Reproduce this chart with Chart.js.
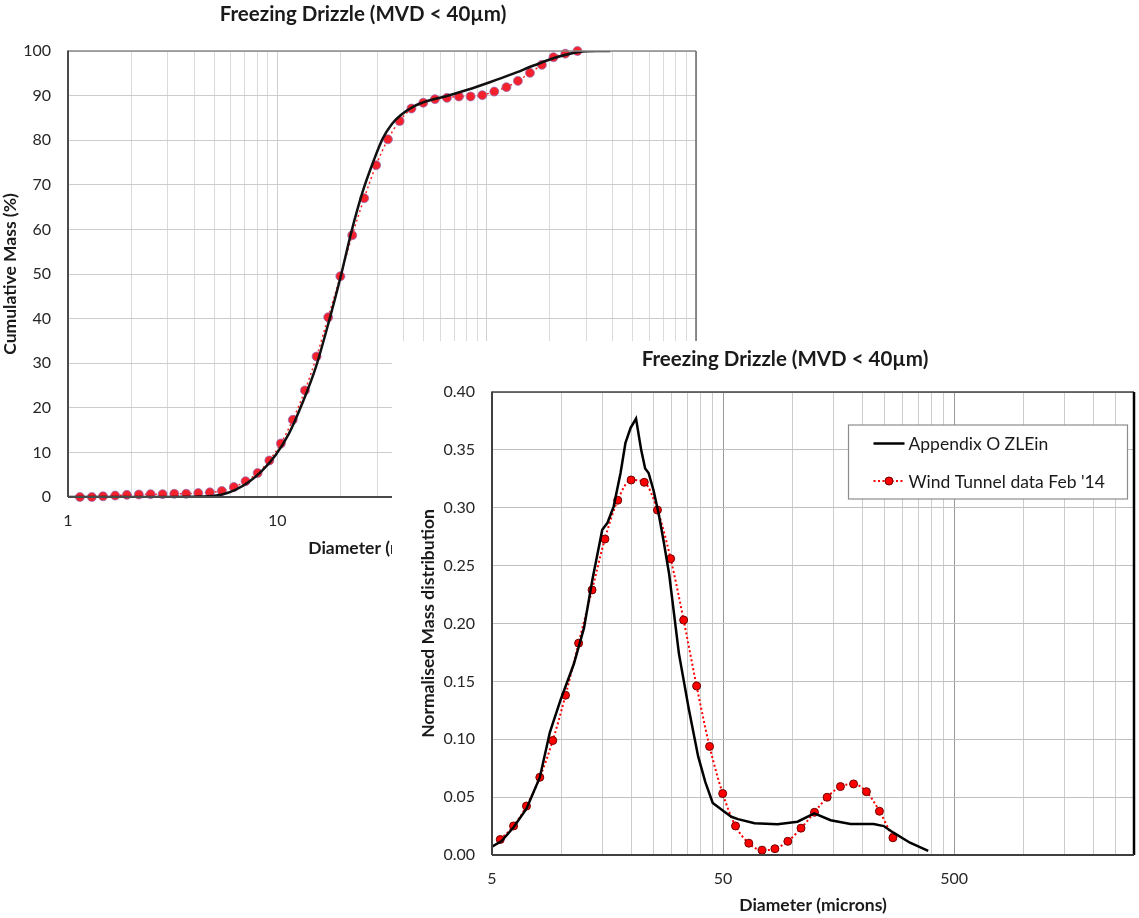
<!DOCTYPE html>
<html>
<head>
<meta charset="utf-8">
<script src="https://cdn.jsdelivr.net/npm/chart.js@4.4.1/dist/chart.umd.min.js"></script>
<style>
  html, body { margin: 0; padding: 0; background: #fff; }
  body { width: 1139px; height: 918px; position: relative; overflow: hidden; }
  #back { position: absolute; left: 0; top: 0; }
  #front { position: absolute; left: 392px; top: 341px; background: #fff; }
</style>
</head>
<body>
<div id="back"><canvas id="cumChart" width="720" height="563"></canvas></div>
<div id="front"><canvas id="massChart" width="747" height="577"></canvas></div>
<script>
const chartTitle = 'Freezing Drizzle (MVD < 40µm)'

// droplet size bins of the wind tunnel measurement (microns)
const binDiameters = [1.14, 1.30, 1.47, 1.68, 1.91, 2.18, 2.48, 2.83, 3.22, 3.67, 4.19, 4.76,
  5.43, 6.2, 7.05, 8.05, 9.16, 10.4, 11.85, 13.55, 15.4, 17.5, 20.0, 22.8, 26.0, 29.65, 33.75,
  38.4, 43.7, 49.8, 56.6, 64.6, 73.7, 83.8, 95.3, 108.7, 124.3, 141, 161, 183.5, 208.5, 237.5, 271.5]

// cumulative mass (%) - wind tunnel, one value per bin
const tunnelCumulative = [0, 0, 0.16, 0.32, 0.48, 0.56, 0.64, 0.64, 0.72, 0.72, 0.88, 1.04,
  1.36, 2.25, 3.53, 5.37, 8.18, 12.0, 17.3, 23.9, 31.5, 40.3, 49.5, 58.7, 67.0, 74.4, 80.2,
  84.3, 87.1, 88.4, 89.2, 89.5, 89.8, 89.8, 90.1, 90.9, 91.9, 93.3, 95.1, 96.9, 98.6, 99.4, 100]

// cumulative mass (%) - Appendix O curve
const appendixCumX = [1, 2, 3, 4, 4.69, 5.44, 6.30, 7.30, 8.46, 9.80, 11.36, 13.16, 15.25, 17.67,
  20.0, 22.6, 25.5, 28.9, 31.9, 35.2, 38.8, 44.9, 52.0, 63.3, 81.0, 103.5, 132, 169, 216, 276, 336, 389]
const appendixCumY = [0, 0, 0.02, 0.08, 0.16, 0.56, 1.6, 3.37, 5.93, 9.38, 14.2, 21.0, 29.0, 39.5,
  49.1, 59.5, 68.3, 75.5, 80.4, 83.6, 85.6, 87.6, 88.8, 89.8, 91.3, 93.0, 94.8, 96.8, 98.6, 99.8, 100, 100]

// normalised mass distribution - wind tunnel, starts at bin 12 (5.43 microns)
const massFirstBin = 12
const tunnelMass = [0.0134, 0.0251, 0.0423, 0.0671, 0.0989, 0.138, 0.183, 0.229, 0.273, 0.3065,
  0.324, 0.322, 0.298, 0.256, 0.203, 0.146, 0.0938, 0.0531, 0.0251, 0.0102, 0.0041, 0.0054,
  0.0118, 0.0232, 0.0369, 0.0499, 0.0591, 0.0614, 0.0547, 0.0378, 0.0149]

// normalised mass distribution - Appendix O ZLEin
const appendixMassX = [5, 5.5, 6.2, 7.05, 8.05, 8.9, 9.9, 11.3, 12.5, 13.6, 15.0, 15.8, 16.8, 18.0,
  18.9, 19.9, 21.0, 22.1, 23.0, 23.8, 25.0, 26.3, 27.6, 29.2, 32.2, 35.5, 39.0, 41.9, 45.1, 50.5,
  54.3, 58, 68.4, 86, 105, 124, 146, 178, 224, 248, 273, 322, 386]
const appendixMassY = [0.0072, 0.012, 0.024, 0.040, 0.067, 0.106, 0.134, 0.165, 0.196, 0.238,
  0.281, 0.287, 0.301, 0.33, 0.356, 0.369, 0.377, 0.350, 0.334, 0.330, 0.315, 0.295, 0.272, 0.243,
  0.174, 0.1266, 0.0852, 0.063, 0.045, 0.0375, 0.033, 0.031, 0.0274, 0.0265, 0.0288, 0.036, 0.030,
  0.0268, 0.0268, 0.025, 0.0193, 0.0106, 0.0035]

// axis grid values and labelled ticks
const cumGridValues = [1, 2, 3, 4, 5, 6, 7, 8, 9, 10, 20, 30, 40, 50, 60, 70, 80, 90,
  100, 200, 300, 400, 500, 600, 700, 800, 900, 1000]
const cumTickLabels = [1, 10, 100, 1000]
const massGridValues = [5, 10, 15, 20, 25, 30, 35, 40, 45, 50, 100, 150, 200, 250, 300, 350,
  400, 450, 500, 1000, 1500, 2000, 2500, 3000]
const massTickLabels = [5, 50, 500]

const seriesNames = ['Appendix O ZLEin', "Wind Tunnel data Feb '14"]

const FONT = 'Lato, "Open Sans", sans-serif'
const pairs = (xs, ys) => xs.map((x, i) => ({x: x, y: ys[i]}))

// titles drawn at a fixed spot
const heading = {
  id: 'heading',
  afterDraw(chart, args, o) {
    const ctx = chart.ctx
    ctx.save()
    ctx.font = 'bold ' + o.size + 'px ' + FONT
    ctx.fillStyle = '#1a1a1a'
    ctx.textAlign = 'center'
    ctx.textBaseline = 'middle'
    ctx.fillText(o.text, o.x, o.y)
    ctx.restore()
  }
}

// plot area border, each side its own colour
const frame = {
  id: 'frame',
  afterDatasetsDraw(chart, args, o) {
    const ctx = chart.ctx, a = chart.chartArea
    const side = (x1, y1, x2, y2, c, w) => {
      ctx.beginPath(); ctx.strokeStyle = c; ctx.lineWidth = w
      ctx.moveTo(x1, y1); ctx.lineTo(x2, y2); ctx.stroke()
    }
    ctx.save()
    side(a.left, a.top, a.right, a.top, o.top, 1.5)
    side(a.right, a.top, a.right, a.bottom, o.right, o.rightWidth)
    side(a.left, a.bottom, a.right, a.bottom, o.bottom, 2)
    side(a.left, a.top - 0.5, a.left, a.bottom, o.left, 2)
    ctx.restore()
  }
}

// boxed legend inside the plot
const boxLegend = {
  id: 'boxLegend',
  afterDraw(chart, args, o) {
    if (!o.display) return
    const ctx = chart.ctx
    ctx.save()
    ctx.fillStyle = '#fff'
    ctx.fillRect(o.x, o.y, o.w, o.h)
    ctx.strokeStyle = '#8c8c8c'
    ctx.lineWidth = 1.2
    ctx.strokeRect(o.x, o.y, o.w, o.h)
    ctx.font = '17.5px ' + FONT
    ctx.textBaseline = 'middle'
    chart.data.datasets.forEach((ds, i) => {
      const y = o.y + o.rowY[i]
      const x0 = o.x + 25, x1 = o.x + 56
      ctx.beginPath()
      ctx.strokeStyle = ds.borderColor
      ctx.lineWidth = ds.borderWidth
      ctx.setLineDash(ds.borderDash || [])
      ctx.moveTo(x0, y); ctx.lineTo(x1, y); ctx.stroke()
      ctx.setLineDash([])
      if (ds.pointRadius > 0) {
        ctx.beginPath()
        ctx.arc((x0 + x1) / 2, y, ds.pointRadius, 0, Math.PI * 2)
        ctx.fillStyle = ds.pointBackgroundColor
        ctx.fill()
        ctx.lineWidth = ds.pointBorderWidth
        ctx.strokeStyle = ds.pointBorderColor
        ctx.stroke()
      }
      ctx.fillStyle = '#1a1a1a'
      ctx.fillText(ds.label, x1 + 4, y + 1)
    })
    ctx.restore()
  }
}

function logAxis(gridValues, labels, minorColor, majorColor, fitHeight, titleText, titlePad) {
  return {
    type: 'logarithmic',
    min: gridValues[0],
    max: gridValues[gridValues.length - 1],
    afterBuildTicks: scale => { scale.ticks = gridValues.map(v => ({value: v})) },
    afterFit: scale => {
      scale.height = fitHeight
      scale.paddingLeft = 0
      scale.paddingRight = 0
    },
    ticks: {
      autoSkip: false, maxRotation: 0, padding: 14,
      color: '#262626', font: {family: FONT, size: 16},
      callback: v => labels.includes(v) ? String(v) : ''
    },
    grid: {
      drawTicks: false,
      color: c => (c.tick && labels.includes(c.tick.value)) ? majorColor : minorColor,
      lineWidth: 1
    },
    border: {display: false},
    title: {display: true, text: titleText, color: '#1a1a1a', padding: {top: 0, bottom: titlePad},
      font: {family: FONT, size: 17.5, weight: 'bold'}}
  }
}

// --- cumulative chart (behind) ---
new Chart(document.getElementById('cumChart'), {
  type: 'line',
  data: {
    datasets: [{
      label: seriesNames[0],
      data: pairs(appendixCumX, appendixCumY),
      borderColor: '#111', borderWidth: 2.5, pointRadius: 0,
      cubicInterpolationMode: 'monotone'
    }, {
      label: seriesNames[1],
      data: pairs(binDiameters, tunnelCumulative),
      borderColor: '#ff2020', borderWidth: 1.5, borderDash: [2, 3],
      pointRadius: 4.5, pointBackgroundColor: '#f5222d',
      pointBorderColor: 'rgba(140,110,190,0.7)', pointBorderWidth: 1,
      cubicInterpolationMode: 'monotone', clip: false
    }]
  },
  options: {
    responsive: false, animation: false,
    layout: {padding: {left: 0, right: 24, top: 51, bottom: 0}},
    plugins: {
      legend: {display: false}, tooltip: {enabled: false},
      heading: {text: chartTitle, x: 363, y: 14, size: 20.5},
      frame: {top: '#8a8a8a', right: '#6a6a6a', rightWidth: 1.5, bottom: '#4a4a4a', left: '#4a4a4a'},
      boxLegend: {display: false}
    },
    scales: {
      x: logAxis(cumGridValues, cumTickLabels, '#dadada', '#cfcfcf', 66, 'Diameter (microns)', 4),
      y: {
        min: 0, max: 100,
        afterFit: scale => { scale.width = 68 },
        ticks: {stepSize: 10, padding: 17, color: '#262626', font: {family: FONT, size: 16}},
        grid: {drawTicks: false, color: '#cdcdcd'},
        border: {display: false},
        title: {display: true, text: 'Cumulative Mass (%)', color: '#1a1a1a', padding: {top: 0, bottom: 0},
          font: {family: FONT, size: 17.5, weight: 'bold'}}
      }
    }
  },
  plugins: [heading, frame, boxLegend]
})

// --- mass distribution chart (front) ---
new Chart(document.getElementById('massChart'), {
  type: 'line',
  data: {
    datasets: [{
      label: seriesNames[0],
      data: pairs(appendixMassX, appendixMassY),
      borderColor: '#000', borderWidth: 2.5, pointRadius: 0, tension: 0
    }, {
      label: seriesNames[1],
      data: pairs(binDiameters.slice(massFirstBin), tunnelMass),
      borderColor: '#ff0000', borderWidth: 2, borderDash: [2, 2.5],
      pointRadius: 4, pointBackgroundColor: '#ff0000',
      pointBorderColor: '#6e0000', pointBorderWidth: 1,
      cubicInterpolationMode: 'monotone', clip: false
    }]
  },
  options: {
    responsive: false, animation: false,
    layout: {padding: {left: 22, right: 1, top: 51, bottom: 0}},
    plugins: {
      legend: {display: false}, tooltip: {enabled: false},
      heading: {text: chartTitle, x: 393, y: 18, size: 20.5},
      frame: {top: '#404040', right: '#000', rightWidth: 2.5, bottom: '#404040', left: '#404040'},
      boxLegend: {display: true, x: 456.5, y: 84, w: 279, h: 74, rowY: [18.5, 56]}
    },
    scales: {
      x: logAxis(massGridValues, massTickLabels, '#cccccc', '#9a9a9a', 63, 'Diameter (microns)', 2.4),
      y: {
        min: 0, max: 0.4,
        afterFit: scale => { scale.width = 78 },
        ticks: {stepSize: 0.05, padding: 17, color: '#262626', font: {family: FONT, size: 16},
          callback: v => v.toFixed(2)},
        grid: {drawTicks: false, color: '#bfbfbf'},
        border: {display: false},
        title: {display: true, text: 'Normalised Mass distribution', color: '#1a1a1a',
          padding: {top: 4, bottom: 0}, font: {family: FONT, size: 17.5, weight: 'bold'}}
      }
    }
  },
  plugins: [heading, frame, boxLegend]
})
</script>
</body>
</html>
